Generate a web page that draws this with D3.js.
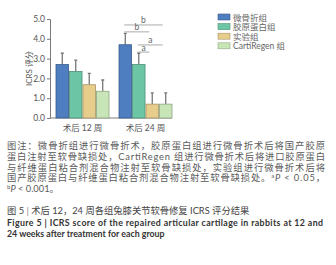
<!DOCTYPE html>
<html>
<head>
<meta charset="utf-8">
<script src="https://cdn.jsdelivr.net/npm/d3@7"></script>
<style>
  body { margin: 0; background: #fff; }
  text { font-family: Lato, "Noto Sans CJK SC", sans-serif; }
</style>
</head>
<body>
<div id="chart"></div>
<script>
// chart values
const groups = ["术后 12 周", "术后 24 周"];
const series = ["微骨折组", "胶原蛋白组", "实验组", "CartiRegen 组"];
const colors = ["#4f7ec0", "#6cc6a6", "#e6cd8c", "#c7e5b6"];
const means = [
  [2.7, 2.35, 1.68, 1.35],
  [3.7, 2.7, 0.7, 0.7],
];
const errors = [
  [0.57, 0.57, 0.57, 0.57],
  [0.57, 0.57, 0.57, 0.57],
];
const yTicks = [0, 1, 2, 3, 4, 5];
// significance brackets in the 24 week group
const sigFrom = [0, 0, 1, 1];
const sigTo = [3, 2, 3, 2];
const sigLevel = [4.7, 4.35, 3.69, 3.33];
const sigLabel = ["b", "b", "a", "a"];

const captionLines = [
  "图注：微骨折组进行微骨折术，胶原蛋白组进行微骨折术后将国产胶原",
  "蛋白注射至软骨缺损处，CartiRegen 组进行微骨折术后将进口胶原蛋白",
  "与纤维蛋白粘合剂混合物注射至软骨缺损处，实验组进行微骨折术后将",
];

const width = 336,
  height = 265;

const svg = d3
  .select("#chart")
  .append("svg")
  .attr("width", width)
  .attr("height", height);

const x0 = d3.scaleBand().domain(groups).range([56, 172]).paddingInner(0.159);
const x1 = d3
  .scaleBand()
  .domain(d3.range(series.length))
  .range([0, x0.bandwidth()])
  .paddingInner(0.07);
const y = d3.scaleLinear().domain([0, 5]).range([118, 19]);

const axisColor = "#7a7a7a";

// y axis
const yAxis = svg
  .append("g")
  .attr("transform", "translate(50,0)")
  .call(d3.axisLeft(y).tickValues(yTicks).tickSize(3).tickPadding(2));
yAxis.selectAll("path, line").attr("stroke", axisColor);
yAxis
  .selectAll("text")
  .attr("fill", "#555")
  .style("font-size", "8.5px");

// x axis line
svg
  .append("line")
  .attr("x1", 50)
  .attr("x2", 172)
  .attr("y1", y(0))
  .attr("y2", y(0))
  .attr("stroke", axisColor);

svg
  .selectAll(".xlabel")
  .data(groups)
  .enter()
  .append("text")
  .attr("class", "xlabel")
  .attr("x", (d) => x0(d) + x0.bandwidth() / 2)
  .attr("y", 131)
  .attr("text-anchor", "middle")
  .attr("fill", "#555")
  .style("font-size", "8.5px")
  .text((d) => d);

svg
  .append("text")
  .attr("transform", `translate(32,${(y(0) + y(5)) / 2}) rotate(-90)`)
  .attr("text-anchor", "middle")
  .attr("fill", "#555")
  .style("font-size", "8px")
  .text("ICRS 评分");

// bars
const groupG = svg
  .selectAll(".grp")
  .data(groups)
  .enter()
  .append("g")
  .attr("class", "grp")
  .attr("transform", (d) => `translate(${x0(d)},0)`);

groupG
  .selectAll(".err")
  .data((d, gi) => means[gi].map((m, si) => ({ m, e: errors[gi][si], si })))
  .enter()
  .append("path")
  .attr("class", "err")
  .attr("d", (d) => {
    const cx = x1(d.si) + x1.bandwidth() / 2;
    return `M${cx},${y(d.m)}V${y(d.m + d.e)}M${cx - 1.5},${y(d.m + d.e)}H${cx + 1.5}`;
  })
  .attr("stroke", "#777")
  .attr("stroke-width", 1.3)
  .attr("fill", "none");

groupG
  .selectAll(".bar")
  .data((d, gi) => means[gi].map((m, si) => ({ m, si })))
  .enter()
  .append("rect")
  .attr("class", "bar")
  .attr("x", (d) => x1(d.si))
  .attr("y", (d) => y(d.m))
  .attr("width", x1.bandwidth())
  .attr("height", (d) => y(0) - y(d.m))
  .attr("fill", (d) => colors[d.si])
  .attr("stroke", (d) => d3.color(colors[d.si]).darker(0.9))
  .attr("stroke-width", 0.8);

// significance marks
const g2 = x0(groups[1]);
sigLabel.forEach((lab, i) => {
  const xa = g2 + x1(sigFrom[i]) + x1.bandwidth() / 2 - 1;
  const xb = g2 + x1(sigTo[i]) + x1.bandwidth() / 2 - 3;
  svg
    .append("line")
    .attr("x1", xa)
    .attr("x2", xb)
    .attr("y1", y(sigLevel[i]))
    .attr("y2", y(sigLevel[i]))
    .attr("stroke", "#a0a0a0")
    .attr("stroke-width", 0.9);
  svg
    .append("text")
    .attr("x", (xa + xb) / 2)
    .attr("y", y(sigLevel[i]) - 1.5)
    .attr("text-anchor", "middle")
    .attr("fill", "#666")
    .style("font-size", "8.5px")
    .text(lab);
});

// legend
const legend = svg
  .selectAll(".leg")
  .data(series)
  .enter()
  .append("g")
  .attr("class", "leg")
  .attr("transform", (d, i) => `translate(218,${14 + i * 9.6})`);
legend
  .append("rect")
  .attr("width", 12)
  .attr("height", 6)
  .attr("fill", (d, i) => colors[i])
  .attr("stroke", (d, i) => d3.color(colors[i]).darker(0.9))
  .attr("stroke-width", 0.6);
legend
  .append("text")
  .attr("x", 15)
  .attr("y", 6.5)
  .attr("fill", "#666")
  .style("font-size", "8.5px")
  .text((d) => d);

// caption
const cap = svg.append("g").attr("fill", "#5a5a5a");
captionLines.forEach((t, i) => {
  cap
    .append("text")
    .attr("x", 7)
    .attr("y", 149 + i * 10.8)
    .attr("textLength", 318)
    .attr("lengthAdjust", "spacing")
    .style("font-size", "9.3px")
    .text(t);
});

const l4 = cap
  .append("text")
  .attr("x", 7)
  .attr("y", 149 + 3 * 10.8)
  .attr("textLength", 318)
  .attr("lengthAdjust", "spacing")
  .style("font-size", "9.3px");
l4.append("tspan").text("国产胶原蛋白与纤维蛋白粘合剂混合物注射至软骨缺损处。");
l4.append("tspan").attr("dy", -3).style("font-size", "6px").text("a");
l4.append("tspan").attr("dy", 3).style("font-style", "italic").text("P");
l4.append("tspan").text(" < 0.05，");

const l5 = cap
  .append("text")
  .attr("x", 7)
  .attr("y", 149 + 4 * 10.8)
  .style("font-size", "9.3px");
l5.append("tspan").attr("dy", -3).style("font-size", "6px").text("b");
l5.append("tspan").attr("dy", 3).style("font-style", "italic").text("P");
l5.append("tspan").text(" < 0.001。");

const t1 = svg
  .append("text")
  .attr("x", 7)
  .attr("y", 214)
  .attr("fill", "#444")
  .style("font-size", "9.3px");
t1.append("tspan").text("图 5");
t1.append("tspan").attr("fill", "#888").text("  |  ");
t1.append("tspan").text("术后 12，24 周各组兔膝关节软骨修复 ICRS 评分结果");

const t2 = svg
  .append("text")
  .attr("x", 7)
  .attr("y", 225.5)
  .attr("fill", "#333")
  .attr("textLength", 316)
  .attr("lengthAdjust", "spacing")
  .style("font-size", "8.8px")
  .style("font-weight", "bold")
  .text("Figure 5  |  ICRS score of the repaired articular cartilage in rabbits at 12 and");

svg
  .append("text")
  .attr("x", 7)
  .attr("y", 237)
  .attr("fill", "#333")
  .style("font-size", "8.8px")
  .style("font-weight", "bold")
  .text("24 weeks after treatment for each group");
</script>
</body>
</html>
